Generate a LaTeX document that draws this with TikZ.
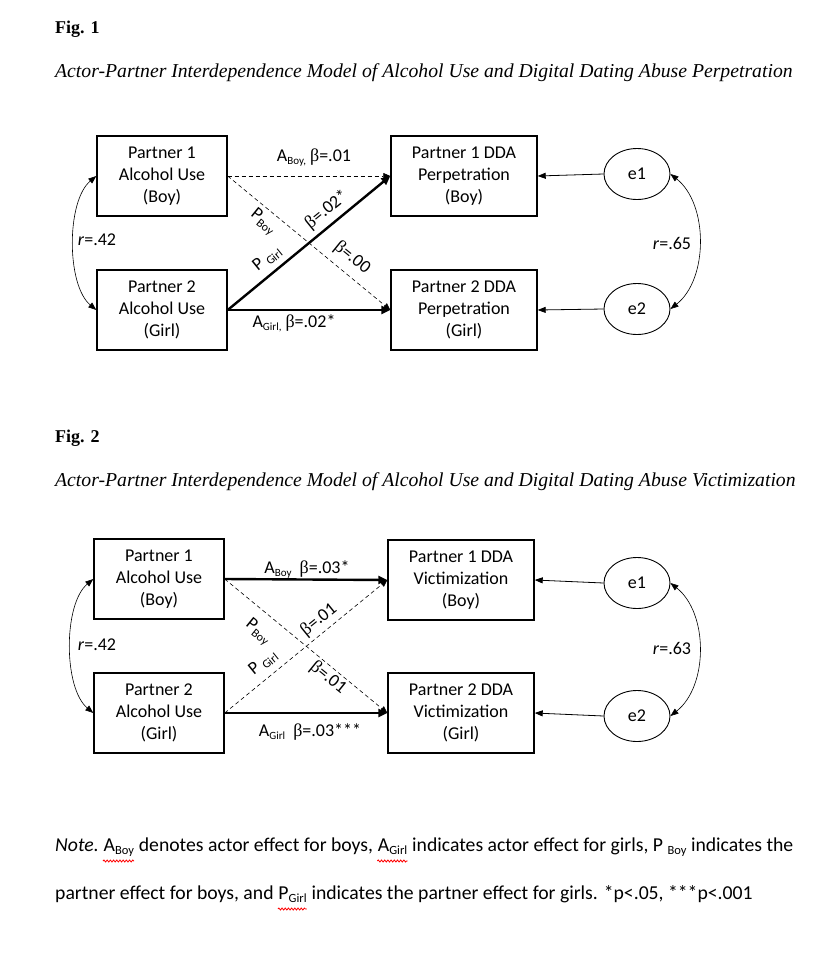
\documentclass[tikz,border=0pt]{standalone}
\usepackage{fontspec}
\setmainfont{Carlito}
\newfontfamily\timesfont{Liberation Serif}
\usetikzlibrary{arrows.meta,shapes.geometric,decorations.pathmorphing}

\newcommand{\lowtext}[2][11]{\raisebox{-0.35ex}{\fontsize{#1}{#1}\selectfont #2}}
\newcommand{\betasym}{{\timesfont β}}

\begin{document}
\begin{tikzpicture}[x=1pt, y=-1pt,
    lbox/.style={draw, line width=1.4pt, minimum width=130pt, minimum height=80pt,
        align=center, inner sep=0pt, font=\fontsize{18}{22}\selectfont},
    rbox/.style={lbox, minimum width=146pt},
    err/.style={draw, ellipse, line width=0.9pt, minimum width=66pt, minimum height=51pt,
        inner sep=0pt, font=\fontsize{18}{22}\selectfont},
    weak/.style={dash pattern=on 4pt off 3pt, line width=0.6pt, -{Triangle[length=7pt,width=6pt]}},
    strong/.style={line width=2.4pt, -{Triangle[length=9pt,width=8pt]}},
    plain/.style={line width=0.8pt, -{Triangle[length=8pt,width=6pt]}},
    cov/.style={line width=0.6pt, {Triangle[length=8pt,width=6pt]}-{Triangle[length=8pt,width=6pt]}},
    lab/.style={inner sep=0pt, font=\fontsize{18}{22}\selectfont},
    head/.style={anchor=base west, inner sep=0pt, font=\timesfont\fontsize{18}{22}\selectfont},
    title/.style={head, font=\timesfont\itshape\fontsize{19.7}{24}\selectfont},
    note/.style={anchor=base west, inner sep=0pt, font=\fontsize{19.7}{24}\selectfont},
    spell/.style={red, line width=0.8pt, decorate,
        decoration={snake, amplitude=1pt, segment length=3.2pt}}]

    \fill[white] (0,0) rectangle (816,956);
    \useasboundingbox (0,0) rectangle (816,956);

    % headings
    \node[head] (fig1) at (55,33) {\bfseries Fig. 1};
    \node[title] (title1) at (55,77) {Actor-Partner Interdependence Model of Alcohol Use and Digital Dating Abuse Perpetration};
    \node[head] (fig2) at (55,442) {\bfseries Fig. 2};
    \node[title] (title2) at (55,486) {Actor-Partner Interdependence Model of Alcohol Use and Digital Dating Abuse Victimization};

    % Fig. 1
    \node[lbox] (alcA) at (162,176) {Partner 1\\Alcohol Use\\(Boy)};
    \node[lbox] (alcB) at (162,310) {Partner 2\\Alcohol Use\\(Girl)};
    \node[rbox] (perA) at (464,176) {Partner 1 DDA\\Perpetration\\(Boy)};
    \node[rbox] (perB) at (464,310) {Partner 2 DDA\\Perpetration\\(Girl)};
    \node[err] (eA) at (637,174) {e1};
    \node[err] (eB) at (637,309) {e2};

    \draw[weak] (alcA.east) -- (perA.west);
    \draw[weak] (alcA.east) -- (perB.west);
    \draw[strong] (alcB.east) -- (perA.west);
    \draw[strong] (alcB.east) -- (perB.west);
    \draw[plain] (eA.west) -- (perA.east);
    \draw[plain] (eB.west) -- (perB.east);
    \draw[cov] (alcA.west) .. controls +(-30,25) and +(-30,-25) .. (alcB.west);
    \draw[cov] (eA.east) .. controls +(38,30) and +(38,-30) .. (eB.east);

    \node[lab] (rA) at (97,240) {\textit{r}=.42};
    \node[lab] (rB) at (672,243) {\textit{r}=.65};
    \node[lab] (actA) at (314,158) {A\lowtext{Boy,} \betasym=.01};
    \node[lab] (actB) at (294,323) {A\lowtext{Girl,} \betasym=.02*};
    \node[lab, rotate=-39] (ptnA) at (263,222) {P\lowtext[12]{Boy}};
    \node[lab, rotate=39] (ptnB) at (267,259) {P \lowtext[12]{Girl}};
    \node[lab, rotate=39] (betA) at (327,210) {\betasym=.02*};
    \node[lab, rotate=-39] (betB) at (352,258) {\betasym=.00};

    % Fig. 2
    \node[lbox] (useA) at (159,579) {Partner 1\\Alcohol Use\\(Boy)};
    \node[lbox] (useB) at (159,713) {Partner 2\\Alcohol Use\\(Girl)};
    \node[rbox] (vicA) at (461,580) {Partner 1 DDA\\Victimization\\(Boy)};
    \node[rbox] (vicB) at (461,713) {Partner 2 DDA\\Victimization\\(Girl)};
    \node[err] (fA) at (637,583) {e1};
    \node[err] (fB) at (637,716) {e2};

    \draw[strong] (useA.east) -- (vicA.west);
    \draw[strong] (useB.east) -- (vicB.west);
    \draw[weak] (useA.east) -- (vicB.west);
    \draw[weak] (useB.east) -- (vicA.west);
    \draw[plain] (fA.west) -- (vicA.east);
    \draw[plain] (fB.west) -- (vicB.east);
    \draw[cov] (useA.west) .. controls +(-30,25) and +(-30,-25) .. (useB.west);
    \draw[cov] (fA.east) .. controls +(38,30) and +(38,-30) .. (fB.east);

    \node[lab] (sA) at (97,645) {\textit{r}=.42};
    \node[lab] (sB) at (672,648) {\textit{r}=.63};
    \node[lab] (dirA) at (307,569) {A\lowtext{Boy}\ \ \betasym=.03*};
    \node[lab] (dirB) at (310,732) {A\lowtext{Girl}\ \ \betasym=.03***};
    \node[lab, rotate=-39] (crsA) at (258,632) {P\lowtext[12]{Boy}};
    \node[lab, rotate=39] (crsB) at (263,663) {P \lowtext[12]{Girl}};
    \node[lab, rotate=39] (cbA) at (319,620) {\betasym=.01};
    \node[lab, rotate=-39] (cbB) at (328,678) {\betasym=.01};

    % note
    \node[note] (noteA) at (55,851) {\textit{Note.}};
    \node[note] (aboy) at (noteA.base east) {\ A\lowtext[12.5]{Boy}};
    \node[note] (noteB) at (aboy.base east) {\ denotes actor effect for boys,};
    \node[note] (agirl) at (noteB.base east) {\ A\lowtext[12.5]{Girl}};
    \node[note] (noteC) at (agirl.base east) {\ indicates actor effect for girls, P \lowtext[12.5]{Boy} indicates the};
    \node[note] (noteD) at (55,899) {partner effect for boys, and};
    \node[note] (pgirl) at (noteD.base east) {\ P\lowtext[12.5]{Girl}};
    \node[note] (noteE) at (pgirl.base east) {\ indicates the partner effect for girls. *p<.05, ***p<.001};

    \draw[spell] ([xshift=4pt,yshift=-10pt]aboy.base west) -- ([yshift=-10pt]aboy.base east);
    \draw[spell] ([xshift=4pt,yshift=-10pt]agirl.base west) -- ([yshift=-10pt]agirl.base east);
    \draw[spell] ([xshift=4pt,yshift=-10pt]pgirl.base west) -- ([yshift=-10pt]pgirl.base east);
\end{tikzpicture}
\end{document}
